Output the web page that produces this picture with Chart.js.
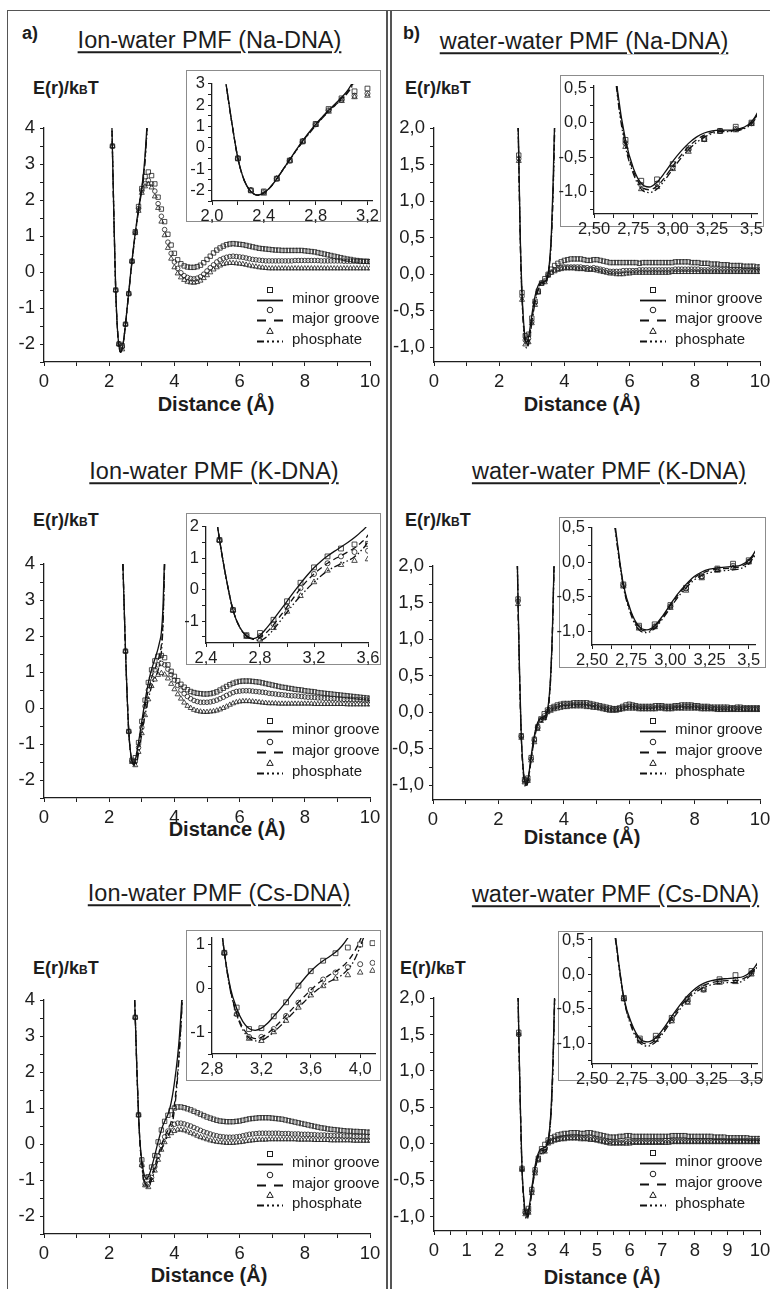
<!DOCTYPE html>
<html>
<head>
<meta charset="utf-8">
<title>Ion-water and water-water PMF</title>
<script src="https://cdn.jsdelivr.net/npm/chart.js@4.4.1/dist/chart.umd.min.js"></script>
<style>
  html, body { margin: 0; padding: 0; background: #fff; }
  #fig { position: relative; width: 770px; height: 1289px; overflow: hidden;
         font-family: "Liberation Sans", Arial, sans-serif; color: #1c1c1c; }
  #fig div, #fig canvas { position: absolute; }
  .rule { background: #555; }
  .title { font-size: 23.5px; line-height: 1; white-space: nowrap; text-decoration: underline;
           text-decoration-thickness: 1.6px; text-underline-offset: 3px; transform: translate(-50%, -50%); }
  .tag { font-size: 18px; font-weight: bold; line-height: 1; }
  .ylab { font-size: 18px; font-weight: bold; line-height: 1; white-space: nowrap; transform: translateY(-50%); }
  .ylab small { font-size: 12px; }
  .xlab { font-size: 20px; font-weight: bold; line-height: 1; white-space: nowrap; transform: translate(-50%, -50%); }
  .box { border: 1.4px solid #8c8c8c; background: #fff; box-sizing: border-box; }
  .leg { font-size: 15px; line-height: 1; white-space: nowrap; transform: translateY(-50%); }
</style>
</head>
<body>
<div id="fig"></div>
<script>
const _ = null;

// distances of the simulated points (Å)
const r = [
  2.0, 2.1, 2.2, 2.3, 2.4, 2.5, 2.6, 2.7, 2.8, 2.9,
  3.0, 3.1, 3.2, 3.3, 3.4, 3.5, 3.6, 3.7, 3.8, 3.9,
  4.0, 4.1, 4.2, 4.3, 4.4, 4.5, 4.6, 4.7, 4.8, 4.9,
  5.0, 5.1, 5.2, 5.3, 5.4, 5.5, 5.6, 5.7, 5.8, 5.9,
  6.0, 6.1, 6.2, 6.3, 6.4, 6.5, 6.6, 6.7, 6.8, 6.9,
  7.0, 7.1, 7.2, 7.3, 7.4, 7.5, 7.6, 7.7, 7.8, 7.9,
  8.0, 8.1, 8.2, 8.3, 8.4, 8.5, 8.6, 8.7, 8.8, 8.9,
  9.0, 9.1, 9.2, 9.3, 9.4, 9.5, 9.6, 9.7, 9.8, 9.9,
  10.0];

// Ion-water, Na-DNA
const naMinor = [
  _, 3.5, -0.5, -2.0, -2.05, -1.45, -0.6, 0.3, 1.12, 1.82,
  2.32, 2.65, 2.78, 2.68, 2.45, 2.08, 1.75, 1.4, 1.05, 0.75,
  0.52, 0.34, 0.23, 0.17, 0.14, 0.13, 0.13, 0.15, 0.19, 0.26,
  0.35, 0.44, 0.53, 0.61, 0.67, 0.72, 0.76, 0.78, 0.79, 0.78,
  0.77, 0.76, 0.74, 0.72, 0.7, 0.68, 0.66, 0.65, 0.64, 0.63,
  0.62, 0.61, 0.61, 0.6, 0.6, 0.6, 0.6, 0.6, 0.6, 0.6,
  0.59, 0.58, 0.57, 0.56, 0.54, 0.52, 0.5, 0.48, 0.46, 0.44,
  0.42, 0.4, 0.38, 0.36, 0.35, 0.33, 0.32, 0.31, 0.3, 0.3,
  0.29];
const naMajor = [
  _, 3.5, -0.5, -2.0, -2.08, -1.45, -0.6, 0.3, 1.1, 1.76,
  2.26, 2.45, 2.55, 2.45, 2.25, 1.9, 1.55, 1.18, 0.83, 0.52,
  0.28, 0.1, -0.02, -0.1, -0.15, -0.18, -0.19, -0.17, -0.13, -0.06,
  0.03, 0.12, 0.2, 0.28, 0.34, 0.38, 0.41, 0.43, 0.44, 0.43,
  0.42, 0.41, 0.39, 0.37, 0.35, 0.34, 0.33, 0.32, 0.31, 0.31,
  0.31, 0.31, 0.31, 0.31, 0.31, 0.31, 0.31, 0.32, 0.32, 0.32,
  0.32, 0.32, 0.32, 0.32, 0.32, 0.31, 0.31, 0.31, 0.31, 0.31,
  0.31, 0.31, 0.3, 0.3, 0.3, 0.3, 0.3, 0.29, 0.29, 0.29,
  0.29];
const naPhos = [
  _, 3.5, -0.5, -2.0, -2.15, -1.45, -0.6, 0.3, 1.08, 1.7,
  2.2, 2.38, 2.45, 2.35, 2.1, 1.78, 1.4, 1.02, 0.67, 0.37,
  0.13, -0.04, -0.15, -0.22, -0.27, -0.29, -0.3, -0.28, -0.24, -0.17,
  -0.09, -0.01, 0.07, 0.13, 0.18, 0.22, 0.24, 0.25, 0.25, 0.24,
  0.23, 0.22, 0.2, 0.18, 0.16, 0.15, 0.13, 0.12, 0.11, 0.1,
  0.1, 0.1, 0.1, 0.1, 0.1, 0.1, 0.1, 0.1, 0.1, 0.1,
  0.1, 0.1, 0.1, 0.1, 0.1, 0.1, 0.1, 0.1, 0.1, 0.1,
  0.1, 0.1, 0.1, 0.1, 0.1, 0.1, 0.1, 0.1, 0.1, 0.1,
  0.1];

// Ion-water, K-DNA
const kMinor = [
  _, _, _, _, _, 1.58, -0.65, -1.45, -1.38, -0.96,
  -0.37, 0.22, 0.71, 1.06, 1.31, 1.44, 1.46, 1.4, 1.2, 1.02,
  0.88, 0.76, 0.66, 0.58, 0.51, 0.46, 0.43, 0.41, 0.4, 0.39,
  0.39, 0.4, 0.42, 0.45, 0.5, 0.55, 0.6, 0.65, 0.69, 0.72,
  0.74, 0.75, 0.75, 0.75, 0.74, 0.73, 0.72, 0.7, 0.68, 0.66,
  0.64, 0.62, 0.6, 0.58, 0.57, 0.55, 0.54, 0.52, 0.51, 0.5,
  0.48, 0.47, 0.46, 0.45, 0.43, 0.42, 0.41, 0.4, 0.39, 0.38,
  0.37, 0.36, 0.35, 0.34, 0.33, 0.32, 0.31, 0.3, 0.29, 0.28,
  0.27];
const kMajor = [
  _, _, _, _, _, 1.58, -0.65, -1.47, -1.48, -1.1,
  -0.54, 0.05, 0.5, 0.84, 1.06, 1.2, 1.24, 1.2, 1.08, 0.93,
  0.78, 0.63, 0.5, 0.4, 0.32, 0.26, 0.21, 0.18, 0.16, 0.16,
  0.16, 0.17, 0.19, 0.22, 0.26, 0.3, 0.35, 0.39, 0.43, 0.46,
  0.47, 0.48, 0.48, 0.48, 0.47, 0.46, 0.45, 0.44, 0.43, 0.41,
  0.4, 0.39, 0.38, 0.37, 0.36, 0.35, 0.34, 0.34, 0.33, 0.32,
  0.31, 0.3, 0.3, 0.29, 0.28, 0.28, 0.27, 0.27, 0.26, 0.26,
  0.25, 0.25, 0.24, 0.24, 0.24, 0.23, 0.23, 0.23, 0.22, 0.22,
  0.22];
const kPhos = [
  _, _, _, _, _, 1.58, -0.65, -1.5, -1.59, -1.22,
  -0.7, -0.2, 0.24, 0.61, 0.79, 0.92, 0.97, 0.93, 0.82, 0.67,
  0.52, 0.38, 0.26, 0.15, 0.06, 0.0, -0.05, -0.08, -0.1, -0.11,
  -0.11, -0.1, -0.09, -0.07, -0.04, 0.0, 0.04, 0.09, 0.13, 0.16,
  0.18, 0.19, 0.19, 0.19, 0.18, 0.17, 0.16, 0.15, 0.14, 0.13,
  0.13, 0.13, 0.12, 0.12, 0.12, 0.12, 0.12, 0.12, 0.12, 0.12,
  0.12, 0.12, 0.12, 0.11, 0.11, 0.11, 0.11, 0.11, 0.11, 0.11,
  0.11, 0.11, 0.11, 0.1, 0.1, 0.1, 0.1, 0.1, 0.1, 0.1,
  0.1];

// Ion-water, Cs-DNA
const csMinor = [
  _, _, _, _, _, _, _, _, 3.52, 0.81,
  -0.44, -0.93, -0.91, -0.64, -0.32, 0.06, 0.39, 0.63, 0.8, 0.93,
  1.0, 1.03, 1.03, 1.01, 0.98, 0.95, 0.91, 0.87, 0.83, 0.79,
  0.75, 0.72, 0.69, 0.66, 0.64, 0.63, 0.62, 0.62, 0.62, 0.63,
  0.64, 0.66, 0.68, 0.7, 0.71, 0.72, 0.73, 0.73, 0.73, 0.73,
  0.72, 0.71, 0.7, 0.69, 0.67, 0.65, 0.63, 0.61, 0.59, 0.57,
  0.55, 0.53, 0.51, 0.49, 0.47, 0.45, 0.44, 0.42, 0.41, 0.4,
  0.39, 0.38, 0.37, 0.36, 0.36, 0.35, 0.35, 0.34, 0.34, 0.33,
  0.33];
const csMajor = [
  _, _, _, _, _, _, _, _, 3.52, 0.81,
  -0.59, -1.11, -1.11, -0.93, -0.63, -0.33, -0.04, 0.2, 0.36, 0.48,
  0.55, 0.58, 0.58, 0.56, 0.53, 0.5, 0.46, 0.42, 0.38, 0.34,
  0.31, 0.28, 0.25, 0.23, 0.21, 0.2, 0.19, 0.19, 0.19, 0.2,
  0.21, 0.23, 0.25, 0.27, 0.28, 0.29, 0.3, 0.3, 0.3, 0.3,
  0.3, 0.3, 0.3, 0.29, 0.29, 0.29, 0.28, 0.28, 0.28, 0.27,
  0.27, 0.27, 0.26, 0.26, 0.25, 0.25, 0.25, 0.24, 0.24, 0.23,
  0.23, 0.23, 0.22, 0.22, 0.22, 0.21, 0.21, 0.21, 0.2, 0.2,
  0.2];
const csPhos = [
  _, _, _, _, _, _, _, _, 3.52, 0.81,
  -0.59, -1.15, -1.2, -1.0, -0.74, -0.44, -0.16, 0.05, 0.22, 0.3,
  0.36, 0.4, 0.4, 0.38, 0.35, 0.31, 0.27, 0.23, 0.19, 0.16,
  0.13, 0.1, 0.08, 0.06, 0.05, 0.04, 0.03, 0.03, 0.03, 0.04,
  0.05, 0.06, 0.08, 0.09, 0.1, 0.11, 0.12, 0.12, 0.12, 0.13,
  0.13, 0.13, 0.13, 0.13, 0.13, 0.13, 0.13, 0.13, 0.12, 0.12,
  0.12, 0.12, 0.12, 0.11, 0.11, 0.11, 0.11, 0.11, 0.1, 0.1,
  0.1, 0.1, 0.1, 0.1, 0.1, 0.09, 0.09, 0.09, 0.09, 0.09,
  0.09];

// Water-water, Na-DNA
const wNaMinor = [
  _, _, _, _, _, _, 1.63, -0.25, -0.84, -0.82,
  -0.6, -0.37, -0.23, -0.12, -0.06, 0.0, 0.07, 0.12, 0.15, 0.17,
  0.19, 0.2, 0.21, 0.21, 0.21, 0.21, 0.2, 0.19, 0.19, 0.2,
  0.2, 0.19, 0.18, 0.17, 0.16, 0.16, 0.16, 0.16, 0.16, 0.16,
  0.16, 0.16, 0.16, 0.15, 0.16, 0.16, 0.16, 0.16, 0.16, 0.16,
  0.16, 0.16, 0.16, 0.16, 0.17, 0.17, 0.17, 0.17, 0.17, 0.16,
  0.16, 0.16, 0.15, 0.15, 0.15, 0.14, 0.14, 0.14, 0.13, 0.13,
  0.13, 0.12, 0.12, 0.12, 0.12, 0.11, 0.11, 0.11, 0.11, 0.1,
  0.1];
const wNaMajor = [
  _, _, _, _, _, _, 1.58, -0.3, -0.9, -0.88,
  -0.65, -0.39, -0.24, -0.12, -0.09, -0.01, 0.03, 0.06, 0.08, 0.09,
  0.1, 0.1, 0.1, 0.1, 0.1, 0.1, 0.09, 0.09, 0.08, 0.09,
  0.08, 0.07, 0.06, 0.05, 0.04, 0.04, 0.04, 0.04, 0.05, 0.05,
  0.05, 0.05, 0.05, 0.06, 0.06, 0.06, 0.06, 0.06, 0.06, 0.06,
  0.06, 0.06, 0.06, 0.06, 0.07, 0.07, 0.07, 0.07, 0.07, 0.07,
  0.07, 0.07, 0.06, 0.06, 0.06, 0.06, 0.06, 0.06, 0.06, 0.06,
  0.06, 0.06, 0.06, 0.06, 0.06, 0.06, 0.06, 0.06, 0.06, 0.06,
  0.06];
const wNaPhos = [
  _, _, _, _, _, _, 1.55, -0.35, -0.96, -0.93,
  -0.67, -0.42, -0.25, -0.13, -0.11, -0.02, 0.02, 0.04, 0.06, 0.07,
  0.08, 0.08, 0.08, 0.08, 0.07, 0.07, 0.07, 0.06, 0.06, 0.06,
  0.05, 0.04, 0.03, 0.02, 0.01, 0.01, 0.0, 0.0, 0.0, 0.01,
  0.01, 0.02, 0.02, 0.02, 0.02, 0.02, 0.02, 0.02, 0.02, 0.02,
  0.02, 0.02, 0.02, 0.03, 0.03, 0.03, 0.03, 0.03, 0.03, 0.03,
  0.03, 0.03, 0.03, 0.03, 0.03, 0.03, 0.03, 0.03, 0.03, 0.03,
  0.03, 0.03, 0.03, 0.03, 0.03, 0.03, 0.03, 0.03, 0.03, 0.03,
  0.03];

// Water-water, K-DNA
const wKMinor = [
  _, _, _, _, _, _, 1.55, -0.32, -0.92, -0.9,
  -0.62, -0.37, -0.2, -0.09, -0.02, 0.03, 0.06, 0.08, 0.1, 0.11,
  0.12, 0.12, 0.12, 0.13, 0.13, 0.13, 0.13, 0.13, 0.12, 0.11,
  0.1, 0.09, 0.08, 0.07, 0.06, 0.05, 0.05, 0.06, 0.08, 0.1,
  0.11, 0.1, 0.09, 0.08, 0.08, 0.08, 0.08, 0.08, 0.09, 0.09,
  0.09, 0.08, 0.08, 0.08, 0.09, 0.09, 0.1, 0.1, 0.1, 0.1,
  0.09, 0.09, 0.08, 0.08, 0.08, 0.07, 0.07, 0.07, 0.07, 0.07,
  0.07, 0.06, 0.06, 0.07, 0.07, 0.06, 0.06, 0.06, 0.06, 0.06,
  0.06];
const wKMajor = [
  _, _, _, _, _, _, 1.52, -0.33, -0.94, -0.93,
  -0.64, -0.38, -0.21, -0.1, -0.05, 0.01, 0.04, 0.06, 0.08, 0.09,
  0.1, 0.1, 0.1, 0.1, 0.11, 0.11, 0.11, 0.1, 0.1, 0.09,
  0.08, 0.07, 0.06, 0.05, 0.04, 0.04, 0.04, 0.05, 0.06, 0.07,
  0.08, 0.08, 0.07, 0.06, 0.06, 0.06, 0.06, 0.06, 0.06, 0.07,
  0.07, 0.06, 0.06, 0.06, 0.07, 0.07, 0.07, 0.08, 0.08, 0.08,
  0.07, 0.07, 0.06, 0.06, 0.06, 0.06, 0.05, 0.05, 0.05, 0.05,
  0.05, 0.05, 0.05, 0.05, 0.05, 0.05, 0.05, 0.05, 0.05, 0.05,
  0.05];
const wKPhos = [
  _, _, _, _, _, _, 1.48, -0.35, -0.96, -0.94,
  -0.66, -0.41, -0.23, -0.12, -0.08, 0.0, 0.02, 0.04, 0.05, 0.06,
  0.07, 0.07, 0.08, 0.08, 0.08, 0.08, 0.08, 0.07, 0.07, 0.06,
  0.06, 0.05, 0.04, 0.03, 0.02, 0.02, 0.02, 0.03, 0.04, 0.05,
  0.05, 0.05, 0.05, 0.04, 0.04, 0.04, 0.04, 0.04, 0.04, 0.05,
  0.05, 0.04, 0.04, 0.04, 0.05, 0.05, 0.05, 0.05, 0.05, 0.05,
  0.05, 0.05, 0.04, 0.04, 0.04, 0.04, 0.04, 0.03, 0.03, 0.03,
  0.03, 0.03, 0.03, 0.03, 0.03, 0.03, 0.03, 0.03, 0.03, 0.03,
  0.03];

// Water-water, Cs-DNA
const wCsMinor = [
  _, _, _, _, _, _, 1.53, -0.34, -0.93, -0.89,
  -0.63, -0.36, -0.2, -0.07, -0.01, 0.05, 0.08, 0.1, 0.12, 0.13,
  0.14, 0.14, 0.15, 0.15, 0.15, 0.14, 0.14, 0.15, 0.15, 0.14,
  0.13, 0.12, 0.11, 0.1, 0.09, 0.09, 0.09, 0.1, 0.1, 0.11,
  0.11, 0.1, 0.1, 0.1, 0.1, 0.1, 0.1, 0.1, 0.1, 0.1,
  0.1, 0.1, 0.1, 0.11, 0.11, 0.11, 0.11, 0.11, 0.1, 0.1,
  0.1, 0.1, 0.1, 0.1, 0.1, 0.1, 0.09, 0.09, 0.09, 0.09,
  0.08, 0.08, 0.08, 0.08, 0.08, 0.08, 0.08, 0.07, 0.07, 0.07,
  0.07];
const wCsMajor = [
  _, _, _, _, _, _, 1.5, -0.35, -0.95, -0.93,
  -0.66, -0.39, -0.22, -0.1, -0.08, 0.02, 0.04, 0.06, 0.07, 0.08,
  0.08, 0.09, 0.09, 0.09, 0.09, 0.09, 0.08, 0.08, 0.08, 0.07,
  0.06, 0.05, 0.04, 0.03, 0.03, 0.02, 0.02, 0.02, 0.02, 0.03,
  0.03, 0.03, 0.03, 0.03, 0.03, 0.03, 0.03, 0.03, 0.03, 0.03,
  0.03, 0.04, 0.04, 0.04, 0.04, 0.04, 0.04, 0.04, 0.04, 0.04,
  0.04, 0.04, 0.04, 0.04, 0.04, 0.04, 0.04, 0.04, 0.04, 0.04,
  0.04, 0.04, 0.04, 0.04, 0.04, 0.04, 0.04, 0.04, 0.04, 0.04,
  0.04];
const wCsPhos = [
  _, _, _, _, _, _, 1.5, -0.36, -0.97, -0.95,
  -0.68, -0.41, -0.23, -0.12, -0.11, 0.0, 0.02, 0.04, 0.05, 0.06,
  0.06, 0.07, 0.07, 0.07, 0.07, 0.06, 0.06, 0.06, 0.05, 0.05,
  0.04, 0.03, 0.02, 0.01, 0.0, 0.0, 0.0, 0.0, 0.0, 0.0,
  0.0, 0.01, 0.01, 0.01, 0.01, 0.01, 0.01, 0.01, 0.01, 0.01,
  0.01, 0.01, 0.01, 0.02, 0.02, 0.02, 0.02, 0.02, 0.02, 0.02,
  0.02, 0.02, 0.02, 0.02, 0.02, 0.02, 0.02, 0.02, 0.02, 0.02,
  0.02, 0.02, 0.02, 0.02, 0.02, 0.02, 0.02, 0.02, 0.02, 0.02,
  0.02];

// Fitted curves (minor groove, major groove, phosphate)
const fitNaX = [2.08, 2.1, 2.15, 2.2, 2.25, 2.3, 2.35, 2.4, 2.45, 2.5, 2.55, 2.6,
  2.65, 2.7, 2.75, 2.8, 2.85, 2.9, 2.95, 3.0, 3.05, 3.1, 3.15, 3.18];
const fitNaMinor = [4.2, 3.35, 1.3, -0.5, -1.55, -2.05, -2.22, -2.12, -1.85, -1.45, -1.0, -0.55,
  -0.1, 0.33, 0.73, 1.1, 1.44, 1.77, 2.06, 2.36, 2.72, 3.25, 3.95, 4.5];
const fitNaMajor = [4.2, 3.35, 1.3, -0.5, -1.55, -2.05, -2.22, -2.12, -1.85, -1.45, -1.0, -0.56,
  -0.12, 0.3, 0.7, 1.07, 1.41, 1.73, 2.02, 2.31, 2.65, 3.15, 3.85, 4.4];
const fitNaPhos = [4.2, 3.35, 1.3, -0.5, -1.55, -2.06, -2.23, -2.13, -1.86, -1.46, -1.02, -0.58,
  -0.14, 0.28, 0.67, 1.04, 1.38, 1.7, 1.99, 2.27, 2.6, 3.08, 3.75, 4.3];

const fitKX = [2.42, 2.45, 2.5, 2.55, 2.6, 2.65, 2.7, 2.75, 2.8, 2.85, 2.9, 2.95, 3.0, 3.05,
  3.1, 3.15, 3.2, 3.25, 3.3, 3.35, 3.4, 3.45, 3.5, 3.55, 3.6, 3.65, 3.7];
const fitKMinor = [4.0, 3.1, 1.6, 0.35, -0.65, -1.2, -1.47, -1.56, -1.45, -1.22, -0.95, -0.66, -0.37, -0.08,
  0.2, 0.46, 0.7, 0.9, 1.07, 1.22, 1.36, 1.5, 1.66, 1.85, 2.1, 2.8, 4.3];
const fitKMajor = [4.0, 3.1, 1.6, 0.35, -0.65, -1.2, -1.48, -1.58, -1.52, -1.36, -1.12, -0.84, -0.55, -0.25,
  0.04, 0.29, 0.5, 0.68, 0.84, 0.97, 1.08, 1.2, 1.33, 1.5, 1.75, 2.4, 4.0];
const fitKPhos = [4.0, 3.1, 1.6, 0.35, -0.65, -1.2, -1.49, -1.58, -1.61, -1.5, -1.27, -1.0, -0.72, -0.45,
  -0.2, 0.03, 0.24, 0.43, 0.6, 0.72, 0.82, 0.92, 1.05, 1.25, 1.55, 2.3, 4.0];

const fitCsX = [2.78, 2.8, 2.85, 2.9, 2.95, 3.0, 3.05, 3.1, 3.15, 3.2, 3.25, 3.3, 3.35, 3.4, 3.45, 3.5,
  3.55, 3.6, 3.65, 3.7, 3.75, 3.8, 3.85, 3.9, 3.95, 4.0, 4.05, 4.1, 4.15, 4.2, 4.25];
const fitCsMinor = [4.0, 3.5, 2.05, 0.82, 0.0, -0.46, -0.76, -0.92, -0.96, -0.91, -0.8, -0.64, -0.48, -0.31, -0.12, 0.06,
  0.23, 0.39, 0.52, 0.63, 0.72, 0.82, 0.96, 1.15, 1.4, 1.7, 2.05, 2.45, 2.95, 3.6, 4.4];
const fitCsMajor = [4.0, 3.5, 2.05, 0.82, -0.05, -0.57, -0.9, -1.08, -1.15, -1.12, -1.03, -0.91, -0.77, -0.62, -0.47, -0.32,
  -0.18, -0.04, 0.09, 0.2, 0.3, 0.38, 0.48, 0.62, 0.82, 1.1, 1.5, 2.0, 2.6, 3.35, 4.2];
const fitCsPhos = [4.0, 3.5, 2.05, 0.82, -0.07, -0.6, -0.95, -1.13, -1.2, -1.19, -1.11, -1.0, -0.87, -0.73, -0.58, -0.44,
  -0.3, -0.16, -0.04, 0.06, 0.15, 0.22, 0.3, 0.43, 0.63, 0.95, 1.35, 1.88, 2.5, 3.25, 4.1];

const fitWX = [2.57, 2.6, 2.65, 2.7, 2.75, 2.8, 2.85, 2.9, 2.95, 3.0, 3.05, 3.1, 3.15,
  3.2, 3.25, 3.3, 3.35, 3.4, 3.45, 3.5, 3.55, 3.6, 3.65, 3.7, 3.75];
const fitWNaMinor = [2.3, 1.62, 0.45, -0.25, -0.66, -0.88, -0.93, -0.86, -0.72, -0.56, -0.42, -0.3, -0.21,
  -0.15, -0.12, -0.11, -0.11, -0.1, -0.07, 0.01, 0.2, 0.55, 1.2, 2.1, 3.2];
const fitWNaMajor = [2.3, 1.58, 0.4, -0.3, -0.7, -0.92, -0.97, -0.92, -0.79, -0.63, -0.48, -0.35, -0.25,
  -0.18, -0.14, -0.12, -0.12, -0.11, -0.08, 0.0, 0.18, 0.5, 1.1, 2.0, 3.1];
const fitWNaPhos = [2.3, 1.55, 0.36, -0.35, -0.74, -0.96, -1.01, -0.96, -0.83, -0.67, -0.52, -0.39, -0.29,
  -0.21, -0.16, -0.13, -0.13, -0.12, -0.09, -0.02, 0.16, 0.48, 1.05, 1.95, 3.0];
const fitWKMinor = [2.3, 1.55, 0.5, -0.32, -0.72, -0.93, -0.98, -0.92, -0.78, -0.61, -0.45, -0.32, -0.21,
  -0.14, -0.1, -0.08, -0.07, -0.06, -0.04, 0.03, 0.2, 0.52, 1.1, 2.0, 3.1];
const fitWKMajor = [2.3, 1.52, 0.47, -0.33, -0.74, -0.95, -1.0, -0.94, -0.8, -0.63, -0.47, -0.34, -0.23,
  -0.16, -0.12, -0.1, -0.09, -0.08, -0.06, 0.01, 0.18, 0.5, 1.08, 1.98, 3.05];
const fitWKPhos = [2.3, 1.48, 0.44, -0.35, -0.77, -0.98, -1.02, -0.96, -0.82, -0.66, -0.5, -0.37, -0.26,
  -0.19, -0.15, -0.13, -0.12, -0.11, -0.09, -0.02, 0.15, 0.47, 1.05, 1.95, 3.0];
const fitWCsMinor = [2.3, 1.53, 0.5, -0.34, -0.72, -0.93, -0.98, -0.92, -0.78, -0.61, -0.45, -0.31, -0.2,
  -0.13, -0.09, -0.07, -0.06, -0.05, -0.03, 0.05, 0.22, 0.55, 1.15, 2.05, 3.1];
const fitWCsMajor = [2.3, 1.5, 0.48, -0.35, -0.75, -0.96, -1.01, -0.95, -0.81, -0.64, -0.48, -0.34, -0.23,
  -0.16, -0.12, -0.1, -0.09, -0.09, -0.06, 0.02, 0.19, 0.5, 1.1, 2.0, 3.05];
const fitWCsPhos = [2.3, 1.5, 0.45, -0.36, -0.78, -0.99, -1.04, -0.98, -0.84, -0.67, -0.51, -0.37, -0.26,
  -0.19, -0.15, -0.13, -0.12, -0.12, -0.09, 0.0, 0.17, 0.48, 1.05, 1.95, 3.0];

const seriesNames = ['minor groove', 'major groove', 'phosphate'];

// Layout of the six panels: axis = [min, max, step, labelled every, decimals]
const panels = [
  { tag: 'a)', tagX: 22, title: 'Ion-water PMF (Na-DNA)', tx: 209.5, ty: 41, yx: 33, yy: 88, dx: 216, dy: 404,
    series: [naMinor, naMajor, naPhos], fitX: fitNaX, fits: [fitNaMinor, fitNaMajor, fitNaPhos],
    main: { area: [44, 122, 370, 362], x: [0, 10, 1, 2, 0], y: [-2.5, 4, 0.5, 1, 0] },
    box: [186, 70, 381, 222],
    inset: { area: [212, 81, 372, 201], x: [2.0, 3.235, 0.2, 0.4, 1], y: [-2.5, 3, 0.5, 1, 0] },
    leg: { x: 257, y: [297, 317, 338] } },
  { title: 'Ion-water PMF (K-DNA)', tx: 214, ty: 472, yx: 33, yy: 520, dx: 227, dy: 829,
    series: [kMinor, kMajor, kPhos], fitX: fitKX, fits: [fitKMinor, fitKMajor, fitKPhos],
    main: { area: [44, 558, 370, 798], x: [0, 10, 1, 2, 0], y: [-2.5, 4, 0.5, 1, 0] },
    box: [186, 513, 381, 665],
    inset: { area: [206, 524, 368, 643], x: [2.4, 3.6, 0.2, 0.4, 1], y: [-1.7, 2, 0.5, 1, 0] },
    leg: { x: 257, y: [728, 749, 770] } },
  { title: 'Ion-water PMF (Cs-DNA)', tx: 219, ty: 894, yx: 33, yy: 968, dx: 209, dy: 1275,
    series: [csMinor, csMajor, csPhos], fitX: fitCsX, fits: [fitCsMinor, fitCsMajor, fitCsPhos],
    main: { area: [44, 994, 370, 1234], x: [0, 10, 1, 2, 0], y: [-2.5, 4, 0.5, 1, 0] },
    box: [186, 930, 381, 1081],
    inset: { area: [212, 935, 375, 1054], x: [2.8, 4.12, 0.2, 0.4, 1], y: [-1.5, 1.15, 0.5, 1, 0] },
    leg: { x: 257, y: [1161, 1182, 1202] } },
  { tag: 'b)', tagX: 403, title: 'water-water PMF (Na-DNA)', tx: 584, ty: 41.5, yx: 405, yy: 88, dx: 582, dy: 404,
    series: [wNaMinor, wNaMajor, wNaPhos], fitX: fitWX, fits: [fitWNaMinor, fitWNaMajor, fitWNaPhos],
    main: { area: [434, 122, 760, 362], x: [0, 10, 1, 2, 0], y: [-1.2, 2, 0.25, 0.5, 1] },
    box: [560, 75, 764, 227],
    inset: { area: [594, 83, 757, 214], x: [2.5, 3.535, 0.125, 0.25, 2], y: [-1.32, 0.53, 0.25, 0.5, 1] },
    leg: { x: 640, y: [297, 317, 338] } },
  { title: 'water-water PMF (K-DNA)', tx: 609, ty: 472, yx: 405, yy: 520, dx: 582, dy: 837,
    series: [wKMinor, wKMajor, wKPhos], fitX: fitWX, fits: [fitWKMinor, fitWKMajor, fitWKPhos],
    main: { area: [433, 560, 760, 800], x: [0, 10, 1, 2, 0], y: [-1.2, 2, 0.25, 0.5, 1] },
    box: [559, 517, 766, 668],
    inset: { area: [592, 525, 755, 645], x: [2.5, 3.54, 0.125, 0.25, 2], y: [-1.2, 0.5, 0.25, 0.5, 1] },
    leg: { x: 640, y: [728, 749, 770] } },
  { title: 'water-water PMF (Cs-DNA)', tx: 615.5, ty: 895, yx: 400, yy: 968, dx: 602, dy: 1277,
    series: [wCsMinor, wCsMajor, wCsPhos], fitX: fitWX, fits: [fitWCsMinor, fitWCsMajor, fitWCsPhos],
    main: { area: [434, 992, 760, 1231], x: [0, 10, 0.5, 1, 0], y: [-1.2, 2, 0.25, 0.5, 1] },
    box: [558, 931, 763, 1081],
    inset: { area: [592, 935, 757, 1064], x: [2.5, 3.535, 0.125, 0.25, 2], y: [-1.3, 0.53, 0.25, 0.5, 1] },
    leg: { x: 640, y: [1160, 1181, 1202] } }
];

const INK = '#1e1e1e';
const FONT = '"Liberation Sans", Arial, sans-serif';
const DASH = [[], [6, 4], [7, 2.5, 1.5, 2.5, 1.5, 2.5]];
const STYLE = ['rect', 'circle', 'triangle'];
const RAD = [3.1, 2.3, 2.9];
const fig = document.getElementById('fig');

function add(cls, css, html) {
  const d = document.createElement('div');
  d.className = cls;
  Object.assign(d.style, css);
  if (html) d.innerHTML = html;
  fig.appendChild(d);
  return d;
}

function xy(xs, ys) {
  return xs.map((x, i) => ({ x: x, y: ys[i] }));
}

// label only the major ticks, with a decimal comma
function tickLabel(v, every, dec) {
  const q = v / every;
  if (Math.abs(q - Math.round(q)) > 1e-6) return '';
  if (dec === 2 && Math.abs(v - 3.5) < 1e-6) return '3,5';
  return v.toFixed(dec).replace('.', ',');
}

function axis(a, size, pad, fit) {
  return {
    type: 'linear', min: a[0], max: a[1], afterFit: fit,
    border: { display: true, color: INK, width: 1.3 },
    grid: { drawOnChartArea: false, drawTicks: true, tickLength: 4, tickColor: INK, tickWidth: 1 },
    ticks: {
      stepSize: a[2], autoSkip: false, includeBounds: false, maxRotation: 0, minRotation: 0,
      padding: pad, color: INK, font: { family: FONT, size: size },
      callback: v => tickLabel(v, a[3], a[4])
    }
  };
}

function drawChart(p, ax, inset) {
  const L = 44, T = 10, R = 16, B = 30;
  const left = Math.round(ax.area[0]), top = Math.round(ax.area[1]);
  const right = Math.round(ax.area[2]), bottom = Math.round(ax.area[3]);
  const w = right - left + L + R, h = bottom - top + T + B;
  const c = document.createElement('canvas');
  c.width = w; c.height = h;
  c.style.left = (left - L) + 'px';
  c.style.top = (top - T) + 'px';
  c.style.width = w + 'px';
  c.style.height = h + 'px';
  fig.appendChild(c);

  const datasets = [];
  p.fits.forEach((f, k) => datasets.push({
    data: xy(p.fitX, f), showLine: true, fill: false,
    borderColor: '#111', borderWidth: 1.3, borderDash: DASH[k],
    pointRadius: 0, cubicInterpolationMode: 'monotone'
  }));
  p.series.forEach((s, k) => datasets.push({
    data: xy(r, s), showLine: false,
    pointStyle: STYLE[k], pointRadius: RAD[k] * (inset ? 1.1 : 1),
    pointBorderWidth: 0.8, pointBorderColor: INK, pointBackgroundColor: 'rgba(0,0,0,0)'
  }));

  const size = inset ? 16.5 : 18.5;
  new Chart(c, {
    type: 'line',
    data: { datasets },
    options: {
      responsive: false, animation: false, events: [], devicePixelRatio: 1,
      layout: { padding: { left: 0, top: T, right: R, bottom: 0 } },
      plugins: { legend: { display: false }, tooltip: { enabled: false } },
      scales: {
        x: axis(ax.x, size, inset ? 2 : 5, s => { s.height = B; }),
        y: axis(ax.y, size, inset ? 3 : 5, s => { s.width = L; })
      }
    }
  });
}

function legendSymbol(k) {
  const mark = [
    '<rect x="12.5" y="2.5" width="5" height="5"/>',
    '<circle cx="15" cy="5" r="2.8"/>',
    '<polygon points="15,1.8 18.2,7.4 11.8,7.4"/>'
  ][k];
  const dash = ['', ' stroke-dasharray="9,8"', ' stroke-dasharray="7,3,2,3,2,3,2,3"'][k];
  return '<svg width="30" height="20" viewBox="0 0 30 20">' +
    '<g fill="none" stroke="' + INK + '" stroke-width="1">' + mark + '</g>' +
    '<line x1="2" y1="15.5" x2="28" y2="15.5" stroke="#111" stroke-width="1.8"' + dash + '/></svg>';
}

// frame
add('rule', { left: '6.5px', top: '9.5px', width: '764px', height: '1.5px' });
add('rule', { left: '6.5px', top: '9.5px', width: '1.5px', height: '1280px' });
add('rule', { left: '386.2px', top: '9.5px', width: '1.5px', height: '1280px' });
add('rule', { left: '390.3px', top: '9.5px', width: '1.5px', height: '1280px' });

panels.forEach(p => {
  if (p.tag) add('tag', { left: p.tagX + 'px', top: '24px' }, p.tag);
  add('title', { left: p.tx + 'px', top: p.ty + 'px' }, p.title);
  add('ylab', { left: p.yx + 'px', top: p.yy + 'px' }, 'E(r)/k<small>B</small>T');
  add('xlab', { left: p.dx + 'px', top: p.dy + 'px' }, 'Distance (Å)');

  drawChart(p, p.main, false);

  const b = p.box;
  add('box', { left: b[0] + 'px', top: b[1] + 'px', width: (b[2] - b[0]) + 'px', height: (b[3] - b[1]) + 'px' });
  drawChart(p, p.inset, true);

  p.leg.y.forEach((y, k) => {
    add('', { left: (p.leg.x - 2) + 'px', top: (y - 12) + 'px', width: '30px', height: '20px' }, legendSymbol(k));
    add('leg', { left: (p.leg.x + 35) + 'px', top: y + 'px' }, seriesNames[k]);
  });
});
</script>
</body>
</html>
